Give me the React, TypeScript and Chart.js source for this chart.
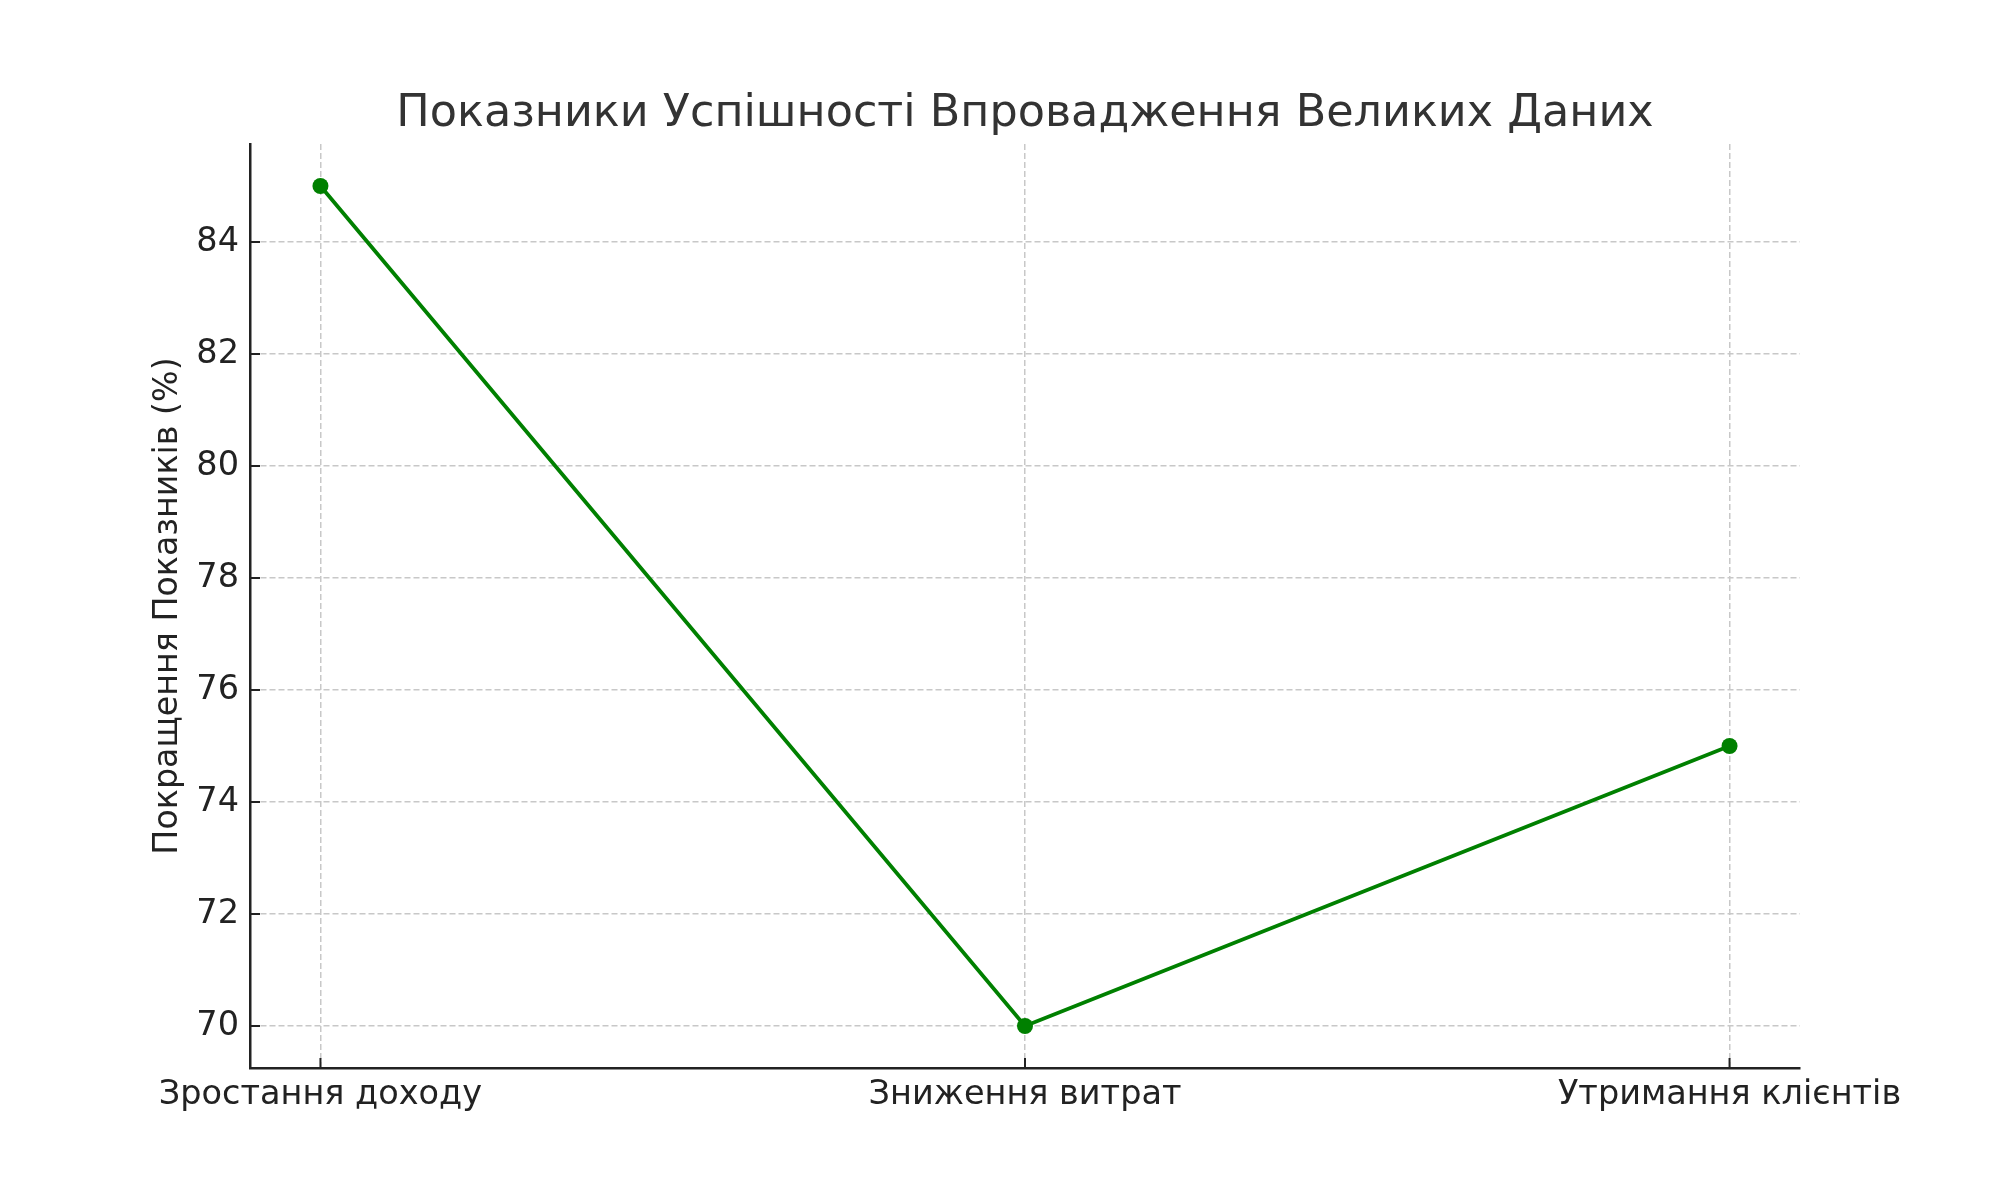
import React, { useEffect, useRef } from "react";
import { Chart, registerables } from "chart.js";

Chart.register(...registerables);

const categories = ["Зростання доходу", "Зниження витрат", "Утримання клієнтів"];
const values = [85, 70, 75];
const yTicks = [70, 72, 74, 76, 78, 80, 82, 84];
const chartTitle = "Показники Успішності Впровадження Великих Даних";
const yAxisTitle = "Покращення Показників (%)";

const FONT = "'DejaVu Sans', sans-serif";

const inwardTicks = {
  id: "inwardTicks",
  afterDraw(chart: any) {
    const { ctx, chartArea, scales } = chart;
    ctx.save();
    ctx.strokeStyle = "#222222";
    ctx.lineWidth = 2;
    const len = 10;
    scales.x.ticks.forEach((t: any) => {
      const px = scales.x.getPixelForValue(t.value);
      ctx.beginPath();
      ctx.moveTo(px, chartArea.bottom);
      ctx.lineTo(px, chartArea.bottom - len);
      ctx.stroke();
    });
    scales.y.ticks.forEach((t: any) => {
      const py = scales.y.getPixelForValue(t.value);
      ctx.beginPath();
      ctx.moveTo(chartArea.left, py);
      ctx.lineTo(chartArea.left + len, py);
      ctx.stroke();
    });
    ctx.restore();
  },
};

const centeredTitle = {
  id: "centeredTitle",
  afterDraw(chart: any) {
    const { ctx, chartArea } = chart;
    ctx.save();
    ctx.fillStyle = "#333333";
    ctx.font = `normal 44.5px ${FONT}`;
    ctx.textAlign = "center";
    ctx.textBaseline = "middle";
    ctx.fillText(chartTitle, (chartArea.left + chartArea.right) / 2, 114.5);
    ctx.restore();
  },
};

export default function App() {
  const ref = useRef<HTMLCanvasElement | null>(null);
  useEffect(() => {
    if (!ref.current) return;
    const chart = new Chart(ref.current, {
      type: "line",
      data: {
        datasets: [
          {
            data: values.map((v, i) => ({ x: i, y: v })),
            borderColor: "#008000",
            backgroundColor: "#008000",
            borderWidth: 3.8,
            pointRadius: 8,
            pointBackgroundColor: "#008000",
            pointBorderWidth: 0,
            tension: 0,
            fill: false,
          },
        ],
      },
      options: {
        responsive: false,
        animation: false,
        layout: { padding: { left: 0, right: 200, top: 144, bottom: 0 } },
        plugins: {
          legend: { display: false },
          tooltip: { enabled: false },
          title: { display: false },
        },
        scales: {
          x: {
            type: "linear",
            min: -0.1,
            max: 2.1,
            afterBuildTicks: (scale: any) => {
              scale.ticks = categories.map((_, i) => ({ value: i }));
            },
            afterFit: (scale: any) => {
              scale.height = 132;
            },
            ticks: {
              callback: (v: any) => categories[v] ?? "",
              color: "#222222",
              font: { family: FONT, size: 33.5 },
              padding: 7,
              maxRotation: 0,
              autoSkip: false,
            },
            grid: { color: "#c8c8c8", lineWidth: 1.5, drawTicks: false },
            border: { display: true, color: "#222222", width: 2.5, dash: [6, 3] },
          },
          y: {
            type: "linear",
            min: 69.25,
            max: 85.75,
            afterBuildTicks: (scale: any) => {
              scale.ticks = yTicks.map((v) => ({ value: v }));
            },
            afterFit: (scale: any) => {
              scale.width = 250;
            },
            ticks: {
              color: "#222222",
              font: { family: FONT, size: 33.5 },
              padding: 11,
            },
            grid: { color: "#c8c8c8", lineWidth: 1.5, drawTicks: false },
            border: { display: true, color: "#222222", width: 2.5, dash: [6, 3] },
            title: {
              display: true,
              text: yAxisTitle,
              color: "#222222",
              font: { family: FONT, size: 33.3 },
              padding: { top: 148, bottom: 0 },
            },
          },
        },
      },
      plugins: [inwardTicks, centeredTitle],
    } as any);
    return () => chart.destroy();
  }, []);
  return (
    <div style={{ position: "fixed", left: 0, top: 0, width: 2000, height: 1200, background: "#ffffff" }}>
      <canvas ref={ref} width={2000} height={1200} style={{ width: 2000, height: 1200 }} />
    </div>
  );
}
